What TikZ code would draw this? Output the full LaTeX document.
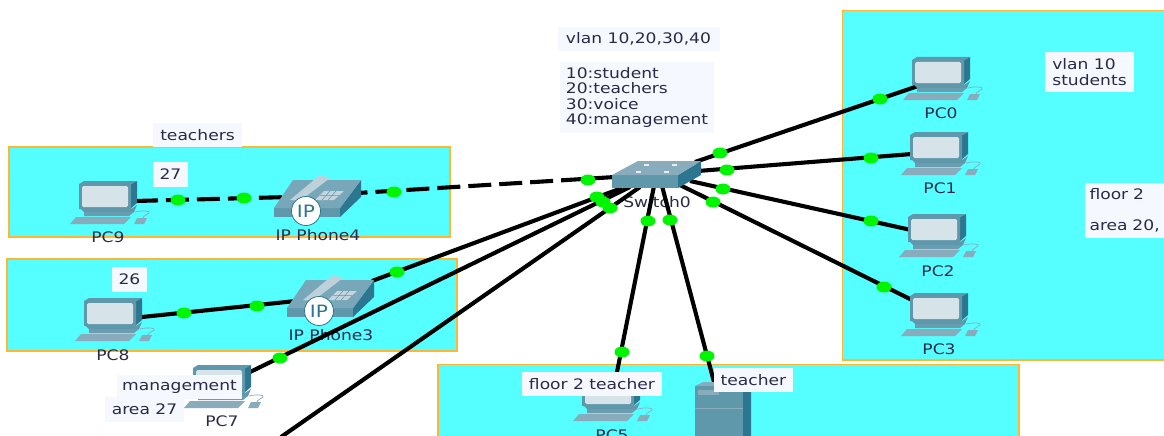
\documentclass[tikz,border=0pt]{standalone}
\usepackage{fontspec}
\usetikzlibrary{shapes.geometric}
\setmainfont[FakeStretch=1.18]{DejaVu Sans}
\definecolor{zone}{HTML}{55FFFF}
\definecolor{zoneedge}{HTML}{FFB733}
\definecolor{notefill}{HTML}{F6F8FF}
\definecolor{ink}{HTML}{2A2A48}
\definecolor{iconmid}{HTML}{5F97AB}
\definecolor{icondark}{HTML}{2C768F}
\definecolor{iconlight}{HTML}{88ACBB}
\definecolor{screen}{HTML}{D6E4EA}
\definecolor{linkgreen}{HTML}{00F500}
\tikzset{
  x=1pt,y=-1pt,
  zonebox/.style={draw=zoneedge,fill=zone,line width=1.3pt},
  link/.style={draw=black,line width=4.1pt},
  dashlink/.style={link,dash pattern=on 23pt off 8pt},
  dot/.style={ellipse,fill=linkgreen,minimum width=15pt,minimum height=11pt,inner sep=0pt},
  note/.style={fill=notefill,text=ink,inner sep=0pt,align=left,font=\fontsize{14.5}{15.5}\selectfont},
  devlabel/.style={text=ink,inner sep=0pt,font=\fontsize{14.5}{15.5}\selectfont},
  pcicon/.pic={
    \fill[icondark] (52,3) -- (58,0) -- (58,22) -- (52,27) -- cycle;
    \fill[iconmid] (5,0) -- (58,0) -- (52,3) -- (52,28) -- (0,28) -- (0,3) -- cycle;
    \fill[screen,rounded corners=1.5pt] (3,5) rectangle (49,26);
    \fill[iconmid] (2,28) -- (52,28) -- (58,24) -- (55,31) -- (5,31) -- cycle;
    \fill[iconmid!70!iconlight] (5,31) -- (55,31) -- (50,35) -- (5,35) -- cycle;
    \fill[iconlight] (-3,36) -- (52,36) -- (45,43) -- (-9,43) -- cycle;
    \fill[iconlight] (58,37) -- (68,37) -- (65,43) -- (55,43) -- cycle;
    \draw[iconlight,line width=0.7pt] (56,31) .. controls (64,29) and (72,30) .. (70,32) .. controls (68,34) and (64,35) .. (64,37);
  },
  phoneicon/.pic={
    \fill[iconmid] (0,34) -- (66,34) -- (66,43) -- (0,43) -- cycle;
    \fill[icondark] (66,34) -- (87,6) -- (87,23) -- (66,43) -- cycle;
    \fill[iconmid!85!white] (0,34) -- (19,6) -- (87,6) -- (66,34) -- cycle;
    \fill[iconlight!55!white] (16,26) -- (46,1) -- (56,4) -- (26,27) -- cycle;
    \fill[iconlight!50!white] (41,26) -- (50,17) -- (70,17) -- (60,26) -- cycle;
    \draw[iconmid,line width=0.5pt] (46,21.5) -- (65,21.5) (48,26) -- (56,17) (54,26) -- (62,17);
    \node[circle,fill=white,draw=icondark,line width=0.8pt,minimum size=29pt,inner sep=0pt,text=icondark,font=\fontsize{17}{17}\selectfont] at (32,37) {IP};
  },
  switchicon/.pic={
    \fill[iconmid] (0,14) -- (66,14) -- (66,27) -- (0,27) -- cycle;
    \fill[icondark] (66,14) -- (89,0) -- (89,14) -- (66,27) -- cycle;
    \fill[iconlight] (0,14) -- (26,0) -- (89,0) -- (66,14) -- cycle;
    \foreach \a/\b in {32/3,60/3,24/10,52/10}{\fill[white!80!iconlight] (\a,\b) rectangle +(5,1.5);}
  },
  servericon/.pic={
    \fill[icondark] (48,4) -- (56,0) -- (56,60) -- (48,60) -- cycle;
    \fill[iconlight] (0,4) -- (8,0) -- (56,0) -- (48,4) -- cycle;
    \fill[iconmid] (0,4) rectangle (48,60);
    \fill[iconlight] (3,8) rectangle (24,13);
    \draw[iconlight,line width=0.6pt] (0,26) -- (48,26);
  }
}
\begin{document}
\begin{tikzpicture}
\useasboundingbox (0,0) rectangle (1164,436);
\clip (0,0) rectangle (1164,436);
\fill[white] (0,0) rectangle (1164,436);
% zones
\draw[zonebox] (842.5,10.5) rectangle (1175,360);
\draw[zonebox] (9,147) rectangle (450,237);
\draw[zonebox] (7,259) rectangle (457,351);
\draw[zonebox] (438,364.5) rectangle (1019,445);
% device labels
\node[devlabel] (lpc0) at (941,113) {PC0};
\node[devlabel] (lpc1) at (940,188) {PC1};
\node[devlabel] (lpc2) at (938,271) {PC2};
\node[devlabel] (lpc3) at (939,349) {PC3};
\node[devlabel] (lpc9) at (108,237) {PC9};
\node[devlabel] (lpc8) at (113,355) {PC8};
\node[devlabel] (lpc7) at (222,421) {PC7};
\node[devlabel] (lpc5) at (612,435) {PC5};
\node[devlabel] (lph4) at (318,235) {IP Phone4};
\node[devlabel] (lph3) at (331,335) {IP Phone3};
\node[devlabel] (lsw) at (657,202) {Switch0};
% ports
\coordinate (pc0) at (918,86);
\coordinate (pc1) at (912,154);
\coordinate (pc2) at (911,230);
\coordinate (pc3) at (912,300);
\coordinate (pc9) at (135,201);
\coordinate (pc8) at (142,317);
\coordinate (pc7) at (248,373);
\coordinate (pc5) at (617,372);
\coordinate (srv) at (714,382);
\coordinate (ph4l) at (290,197);
\coordinate (ph4r) at (358,193);
\coordinate (ph3l) at (296,301);
\coordinate (ph3r) at (372,281);
\coordinate (off) at (281,437);
\coordinate (s0) at (695,162);
\coordinate (s1) at (698,171);
\coordinate (s2) at (690,181);
\coordinate (s3) at (680,185);
\coordinate (s5) at (654,186);
\coordinate (ss) at (662,186);
\coordinate (s4) at (615,177);
\coordinate (s6) at (622,188);
\coordinate (s7) at (630,187);
\coordinate (s8) at (640,187);
% links
\draw[link] (s0) -- (pc0);
\draw[link] (s1) -- (pc1);
\draw[link] (s2) -- (pc2);
\draw[link] (s3) -- (pc3);
\draw[link] (s5) -- (pc5);
\draw[link] (ss) -- (srv);
\draw[dashlink] (pc9) -- (ph4l);
\draw[dashlink] (s4) -- (ph4r);
\draw[link] (pc8) -- (ph3l);
\draw[link] (s6) -- (ph3r);
\draw[link] (s7) -- (pc7);
\draw[link] (s8) -- (off);
% icons
\pic at (912,57) {pcicon};
\pic at (910,132) {pcicon};
\pic at (908,214) {pcicon};
\pic at (910,293) {pcicon};
\pic at (79,181) {pcicon};
\pic at (84,298) {pcicon};
\pic at (193,365) {pcicon};
\pic at (582,378) {pcicon};
\pic at (274,174) {phoneicon};
\pic at (287,274) {phoneicon};
\pic at (612,161) {switchicon};
\pic at (695,382) {servericon};
% link lights
\node[dot] (d0a) at (720,153) {};
\node[dot] (d0b) at (880,99) {};
\node[dot] (d1a) at (727,170) {};
\node[dot] (d1b) at (871,158) {};
\node[dot] (d2a) at (723,189) {};
\node[dot] (d2b) at (871,221) {};
\node[dot] (d3a) at (713,202) {};
\node[dot] (d3b) at (884,287) {};
\node[dot] (d5a) at (648,221) {};
\node[dot] (d5b) at (622,352) {};
\node[dot] (dsa) at (670,220) {};
\node[dot] (dsb) at (707,356) {};
\node[dot] (d9a) at (178,200) {};
\node[dot] (d9b) at (244,198) {};
\node[dot] (d4a) at (394,192) {};
\node[dot] (d4b) at (588,180) {};
\node[dot] (d8a) at (184,313) {};
\node[dot] (d8b) at (257,306) {};
\node[dot] (d6a) at (397,272) {};
\node[dot] (d6b) at (597,197) {};
\node[dot] (d7a) at (280,358) {};
\node[dot] (d7b) at (603,202) {};
\node[dot] (d10) at (610,208) {};
% notes
\node[note,minimum width=89pt,minimum height=24pt] (n1) at (197.5,135) {teachers};
\node[note,minimum width=35pt,minimum height=25pt] (n2) at (170.5,174.5) {27};
\node[note,minimum width=35pt,minimum height=25pt] (n3) at (129.5,279.5) {26};
\node[note,minimum width=79pt,minimum height=25pt] (n5) at (144.5,409.5) {area 27};
\node[note,minimum width=125pt,minimum height=24pt] (n4) at (179.5,387) {management};
\node[note,minimum width=162pt,minimum height=24pt] (n6) at (638.5,39) {vlan 10,20,30,40};
\node[note,minimum width=154pt,minimum height=71pt] (n7) at (637,97.5) {10:student\\20:teachers\\30:voice\\40:management};
\node[note,minimum width=89pt,minimum height=40pt] (n8) at (1089.5,72) {vlan 10\\students};
\node[note,minimum width=82pt,minimum height=55pt,text width=72pt] (n9) at (1125.5,210.5) {floor 2\\[15.5pt]area 20,};
\node[note,minimum width=140pt,minimum height=24pt] (n10) at (592,384) {floor 2 teacher};
\node[note,minimum width=79pt,minimum height=24pt] (n11) at (753.5,380) {teacher};
\end{tikzpicture}
\end{document}
